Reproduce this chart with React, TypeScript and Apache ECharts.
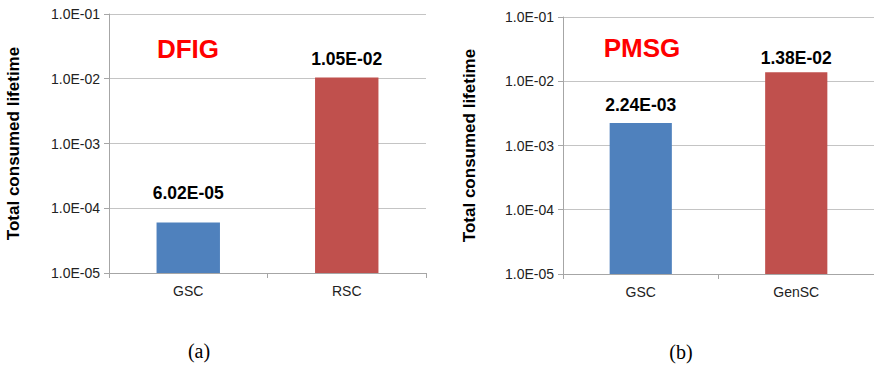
import React, { useEffect, useRef } from "react";
import * as echarts from "echarts";

const categoriesA = ["GSC", "RSC"];
const valuesA = [6.02e-5, 1.05e-2];
const categoriesB = ["GSC", "GenSC"];
const valuesB = [2.24e-3, 1.38e-2];
const titleA = "DFIG";
const titleB = "PMSG";
const captionA = "(a)";
const captionB = "(b)";
const yAxisName = "Total consumed lifetime";
const yMin = 1e-5;
const yMax = 1e-1;

const barColors = ["#4F81BD", "#C0504D"];
const labelDistA = [21, 9];
const labelDistB = [9, 5];

function sci(v: number, digits: number): string {
  let e = Math.floor(Math.log10(v) + 1e-9);
  let ms = (v / Math.pow(10, e)).toFixed(digits);
  if (parseFloat(ms) >= 10) {
    e += 1;
    ms = (v / Math.pow(10, e)).toFixed(digits);
  }
  const sign = e < 0 ? "-" : "+";
  return `${ms}E${sign}${String(Math.abs(e)).padStart(2, "0")}`;
}

const FONT = "'Liberation Sans', Arial, sans-serif";

export default function App() {
  const ref = useRef<HTMLDivElement>(null);
  useEffect(() => {
    if (!ref.current) return;
    const chart = echarts.init(ref.current, null, { renderer: "svg" });

    const mkY = (gridIndex: number, nameGap: number) => ({
      type: "log" as const,
      gridIndex,
      logBase: 10,
      min: yMin,
      max: yMax,
      interval: 1,
      name: yAxisName,
      nameLocation: "middle" as const,
      nameGap,
      nameRotate: 90,
      nameTextStyle: {
        fontFamily: FONT,
        fontWeight: "bold" as const,
        fontSize: 17,
        color: "#000",
      },
      axisLine: { show: true, lineStyle: { color: "#a6a6a6", width: 1 } },
      axisTick: { show: true, length: 5, lineStyle: { color: "#a6a6a6" } },
      minorTick: { show: false },
      splitLine: { show: true, lineStyle: { color: "#c4c4c4", width: 1 } },
      axisLabel: {
        fontFamily: FONT,
        fontSize: 14,
        color: "#222",
        margin: 9,
        formatter: (v: number) => sci(v, 1),
      },
    });

    const mkX = (gridIndex: number, data: string[]) => ({
      type: "category" as const,
      gridIndex,
      data,
      axisLine: { show: true, lineStyle: { color: "#a6a6a6", width: 1 } },
      axisTick: { show: true, length: 5, lineStyle: { color: "#a6a6a6" } },
      axisLabel: { fontFamily: FONT, fontSize: 14, color: "#222", margin: 11 },
      splitLine: { show: false },
    });

    const mkSeries = (idx: number, values: number[], cats: string[], dists: number[]) => ({
      type: "custom" as const,
      xAxisIndex: idx,
      yAxisIndex: idx,
      encode: { x: 0, y: 1 },
      z: 3,
      data: values.map((v, i) => [i, v]),
      renderItem: (params: any, api: any) => {
        const ci = api.value(0);
        const v = api.value(1);
        const top = api.coord([ci, v]);
        const bottom = api.coord([ci, yMin]);
        const bw = (params.coordSys.width / cats.length) * 0.4;
        const i = params.dataIndex;
        return {
          type: "group",
          children: [
            {
              type: "rect",
              shape: { x: top[0] - bw / 2, y: top[1], width: bw, height: bottom[1] - top[1] },
              style: { fill: barColors[i] },
            },
            {
              type: "text",
              x: top[0],
              y: top[1] - dists[i],
              style: {
                text: sci(v, 2),
                fill: "#000",
                font: `bold 17.5px ${FONT}`,
                textAlign: "center",
                textVerticalAlign: "bottom",
              },
            },
          ],
        };
      },
    });

    const txt = (x: number, y: number, text: string, font: string, fill: string) => ({
      type: "text",
      x,
      y,
      z: 10,
      style: { text, fill, font, textAlign: "center", textVerticalAlign: "middle" },
    });

    chart.setOption({
      animation: false,
      backgroundColor: "#fff",
      grid: [
        { left: 109, top: 14, width: 317, height: 259, containLabel: false },
        { left: 563, top: 17, width: 312, height: 257, containLabel: false },
      ],
      xAxis: [mkX(0, categoriesA), mkX(1, categoriesB)],
      yAxis: [mkY(0, 87), mkY(1, 85)],
      series: [
        mkSeries(0, valuesA, categoriesA, labelDistA),
        mkSeries(1, valuesB, categoriesB, labelDistB),
      ],
      graphic: [
        txt(188, 49, titleA, `bold 26px ${FONT}`, "#FF0000"),
        txt(642, 48, titleB, `bold 26px ${FONT}`, "#FF0000"),
        txt(199, 351, captionA, `20px 'Liberation Serif', 'Times New Roman', serif`, "#000"),
        txt(681, 352, captionB, `20px 'Liberation Serif', 'Times New Roman', serif`, "#000"),
      ],
    });
    return () => chart.dispose();
  }, []);
  return (
    <div
      ref={ref}
      style={{ position: "absolute", left: 0, top: 0, width: 874, height: 366 }}
    />
  );
}
